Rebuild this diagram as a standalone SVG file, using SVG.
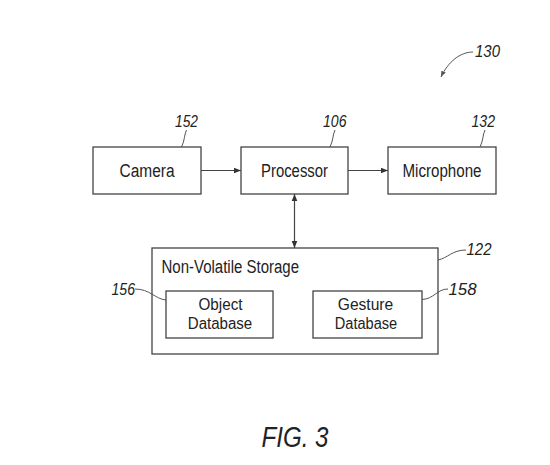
<svg xmlns="http://www.w3.org/2000/svg" width="550" height="465" viewBox="0 0 550 465">
<style>
.box{fill:#fff;stroke:#444;stroke-width:1.3}
.t{font-family:"Liberation Sans",Arial,sans-serif;font-size:18px;fill:#222;text-anchor:middle}
.t2{font-family:"Liberation Sans",Arial,sans-serif;font-size:16px;fill:#222;text-anchor:middle}
.ref{font-family:"Liberation Sans",Arial,sans-serif;font-size:17px;font-style:italic;fill:#222}
.ld{fill:none;stroke:#555;stroke-width:1}
.con{fill:none;stroke:#444;stroke-width:1.2}
</style>
<defs>
<marker id="ah" viewBox="0 0 10 10" refX="10" refY="5" markerWidth="7" markerHeight="7" markerUnits="userSpaceOnUse" orient="auto-start-reverse">
<path d="M0,1 L10,5 L0,9 z" fill="#333"/>
</marker>
<marker id="ah2" viewBox="0 0 10 10" refX="10" refY="5" markerWidth="6" markerHeight="6" markerUnits="userSpaceOnUse" orient="auto">
<path d="M0,1 L10,5 L0,9 z" fill="#555"/>
</marker>
</defs>
<rect width="550" height="465" fill="#fff"/>
<g id="ref130">
<text class="ref" x="475" y="57" textLength="25" lengthAdjust="spacingAndGlyphs">130</text>
<path class="ld" d="M473,52 C460,52 448,62 441,77" marker-end="url(#ah2)"/>
</g>
<g id="camera">
<rect class="box" x="93" y="147" width="108" height="47"/>
<text class="t" x="147" y="176.5" textLength="55" lengthAdjust="spacingAndGlyphs">Camera</text>
<text class="ref" x="175" y="127" textLength="23" lengthAdjust="spacingAndGlyphs">152</text>
<path class="ld" d="M186.5,130 C184,135 185,140 181.5,147"/>
</g>
<g id="processor">
<rect class="box" x="241" y="147" width="107" height="47"/>
<text class="t" x="294.5" y="176.5" textLength="67" lengthAdjust="spacingAndGlyphs">Processor</text>
<text class="ref" x="323" y="127" textLength="23.5" lengthAdjust="spacingAndGlyphs">106</text>
<path class="ld" d="M335,130 C332.5,135 333.5,140 330,147"/>
</g>
<g id="microphone">
<rect class="box" x="388" y="147" width="108" height="47"/>
<text class="t" x="442" y="176.5" textLength="79" lengthAdjust="spacingAndGlyphs">Microphone</text>
<text class="ref" x="471.5" y="127" textLength="23.5" lengthAdjust="spacingAndGlyphs">132</text>
<path class="ld" d="M485,130 C482.5,135 483.5,140 480,147"/>
</g>
<g id="storage">
<rect class="box" x="152" y="248" width="286" height="106"/>
<text class="t" x="161.5" y="273" style="text-anchor:start" textLength="137.5" lengthAdjust="spacingAndGlyphs">Non-Volatile Storage</text>
<text class="ref" x="466.5" y="255" textLength="25" lengthAdjust="spacingAndGlyphs">122</text>
<path class="ld" d="M438,260 C448,258 452,250 466,250"/>
</g>
<g id="objectdb">
<rect class="box" x="166" y="291" width="107" height="47"/>
<text class="t2" x="220.5" y="310" textLength="44" lengthAdjust="spacingAndGlyphs">Object</text>
<text class="t2" x="220" y="329" textLength="64.5" lengthAdjust="spacingAndGlyphs">Database</text>
<text class="ref" x="111.5" y="295" textLength="23.5" lengthAdjust="spacingAndGlyphs">156</text>
<path class="ld" d="M135,289 C150,289 155,299 166,300"/>
</g>
<g id="gesturedb">
<rect class="box" x="313" y="291" width="109" height="47"/>
<text class="t2" x="365.5" y="310" textLength="55.5" lengthAdjust="spacingAndGlyphs">Gesture</text>
<text class="t2" x="366" y="329" textLength="62.5" lengthAdjust="spacingAndGlyphs">Database</text>
<text class="ref" x="448.5" y="295" textLength="28" lengthAdjust="spacingAndGlyphs">158</text>
<path class="ld" d="M422,299.5 C434,299 437,289 448,289"/>
</g>
<g id="connectors">
<line class="con" x1="201" y1="170.5" x2="241" y2="170.5" marker-end="url(#ah)"/>
<line class="con" x1="348" y1="170.5" x2="388" y2="170.5" marker-end="url(#ah)"/>
<line class="con" x1="294.5" y1="194" x2="294.5" y2="248" marker-start="url(#ah)" marker-end="url(#ah)"/>
</g>
<text x="295" y="446.5" style="font-family:'Liberation Sans',Arial,sans-serif;font-size:29px;font-style:italic;fill:#222;text-anchor:middle" textLength="67" lengthAdjust="spacingAndGlyphs">FIG. 3</text>
</svg>
